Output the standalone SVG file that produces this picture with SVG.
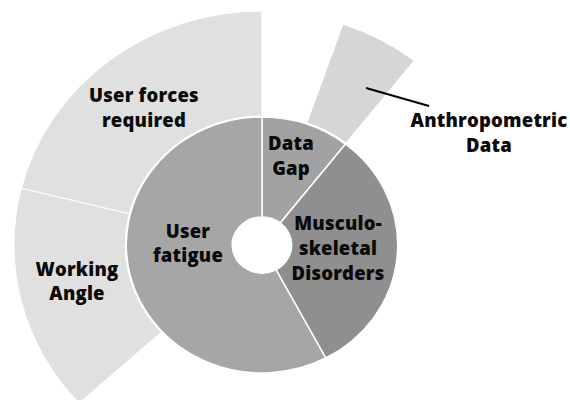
<svg xmlns="http://www.w3.org/2000/svg" width="570" height="400" viewBox="0 0 570 400">
  <style>
    .slice { stroke: #ffffff; stroke-width: 1.5; vector-effect: non-scaling-stroke; }
    .thin { stroke-width: 1; }
    .outer { fill: #e0e0e0; }
    .anthro { fill: #d6d6d6; }
    .gap { fill: #a2a2a2; }
    .msd { fill: #8f8f8f; }
    .fatigue { fill: #a6a6a6; }
    .label { font-family: "Open Sans", "Liberation Sans", Arial, sans-serif; font-weight: 800; font-size: 18.5px; fill: #0a0a0a; text-anchor: middle; letter-spacing: 0.2px; }
  </style>
  <rect width="570" height="400" fill="#ffffff"/>

  <!-- sunburst rings, centred on the hole, slightly wider than tall -->
  <g transform="translate(262,245) scale(1.06,1)">
    <g id="user-forces-required">
      <path class="slice thin outer" d="M-227.0,-56.6 A234,234 0 0 1 0,-234 L0,-129 A129,129 0 0 0 -125.2,-31.2 Z"/>
    </g>
    <g id="working-angle">
      <path class="slice thin outer" d="M-172.5,158.1 A234,234 0 0 1 -227.0,-56.6 L-125.2,-31.2 A129,129 0 0 0 -95.1,87.2 Z"/>
    </g>
    <g id="anthropometric-data">
      <path class="slice anthro" d="M76.2,-221.2 A234,234 0 0 1 144.1,-184.4 L79.4,-101.7 A129,129 0 0 0 42.0,-122.0 Z"/>
    </g>
    <g id="data-gap">
      <path class="slice gap" d="M0,-128 A128,128 0 0 1 78.8,-100.9 L17.24,-22.06 A28,28 0 0 0 0,-28 Z"/>
    </g>
    <g id="musculoskeletal-disorders">
      <path class="slice msd" d="M78.8,-100.9 A128,128 0 0 1 60.1,113.0 L13.15,24.72 A28,28 0 0 0 17.24,-22.06 Z"/>
    </g>
    <g id="user-fatigue">
      <path class="slice fatigue" d="M60.1,113.0 A128,128 0 1 1 0,-128 L0,-28 A28,28 0 1 0 13.15,24.72 Z"/>
    </g>
  </g>

  <!-- callout line for the outer wedge -->
  <g id="connectors">
    <line x1="366" y1="88" x2="429" y2="106" stroke="#000000" stroke-width="2"/>
  </g>

  <!-- labels -->
  <g id="labels">
    <text class="label" x="144" y="102">User forces</text>
    <text class="label" x="144" y="127">required</text>
    <text class="label" x="77" y="276">Working</text>
    <text class="label" x="77" y="300">Angle</text>
    <text class="label" x="188" y="238">User</text>
    <text class="label" x="188" y="262">fatigue</text>
    <text class="label" x="291" y="150">Data</text>
    <text class="label" x="291" y="175">Gap</text>
    <text class="label" x="338" y="230">Musculo-</text>
    <text class="label" x="338" y="255">skeletal</text>
    <text class="label" x="338" y="280">Disorders</text>
    <text class="label" x="489" y="127">Anthropometric</text>
    <text class="label" x="489" y="152">Data</text>
  </g>
</svg>
